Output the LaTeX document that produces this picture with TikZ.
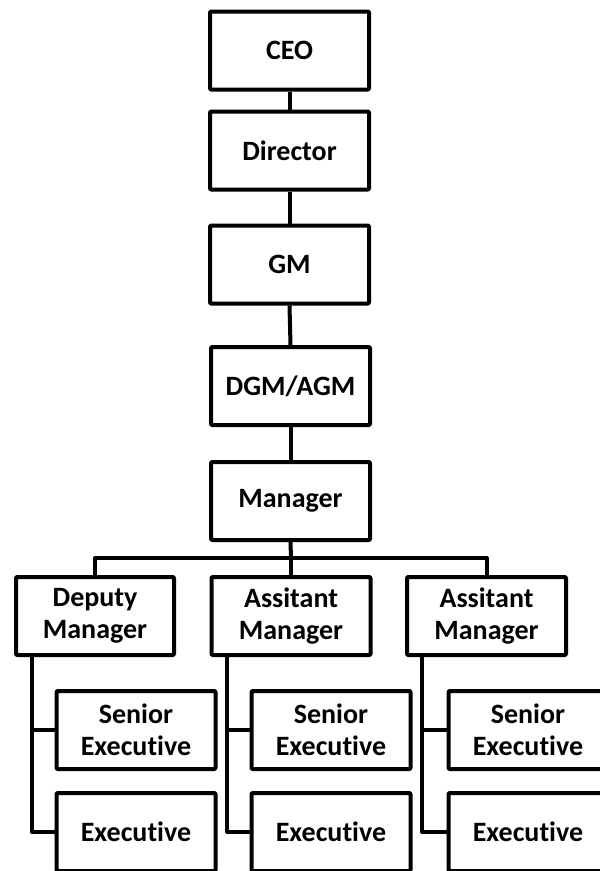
\documentclass[tikz,border=0pt]{standalone}
\usepackage{fontspec}
\setmainfont[Ligatures={NoCommon,NoRare}]{Carlito}
\begin{document}
\begin{tikzpicture}[x=1pt,y=-1pt,
  box/.style={draw, line width=4pt, line join=round, rounded corners=1pt, minimum width=159pt, minimum height=78pt, inner sep=0pt, align=center, font=\bfseries\fontsize{28}{32}\selectfont},
  link/.style={line width=4pt, line join=round}]
\clip (0,0) rectangle (600,871);
\useasboundingbox (0,0) rectangle (600,871);
\node[box] (ceo) at (289.5,50.5) {CEO};
\node[box] (dir) at (289.5,150.5) {Director};
\node[box] (gm) at (289.5,264.5) {GM};
\node[box] (dgm) at (290.5,386) {DGM/AGM};
\node[box] (mgr) at (290.5,501) {Manager};
\node[box,minimum width=158pt] (dep) at (95,616) {Deputy\\Manager};
\node[box] (am1) at (291,616) {Assitant\\Manager};
\node[box] (am2) at (486.5,616) {Assitant\\Manager};
\node[box] (se1) at (136,730) {Senior\\Executive};
\node[box] (ex1) at (136,832) {Executive};
\node[box] (se2) at (331,730) {Senior\\Executive};
\node[box] (ex2) at (331,832) {Executive};
\node[box] (se3) at (528,730) {Senior\\Executive};
\node[box] (ex3) at (528,832) {Executive};
\coordinate (br) at (291,558);
\draw[link] (ceo.south) -- (dir.north);
\draw[link] (dir.south) -- (gm.north);
\draw[link] (gm.south) -- (dgm.north);
\draw[link] (dgm.south) -- (mgr.north);
\draw[link] (mgr.south) -- (br);
\draw[link] (dep.north) |- (br) -| (am2.north);
\draw[link] (br) -- (am1.north);
\draw[link] (dep.south -| 32,0) |- (ex1.west);
\draw[link] (32,730) -- (se1.west);
\draw[link] (am1.south -| 227,0) |- (ex2.west);
\draw[link] (227,730) -- (se2.west);
\draw[link] (am2.south -| 422,0) |- (ex3.west);
\draw[link] (422,730) -- (se3.west);
\end{tikzpicture}
\end{document}
